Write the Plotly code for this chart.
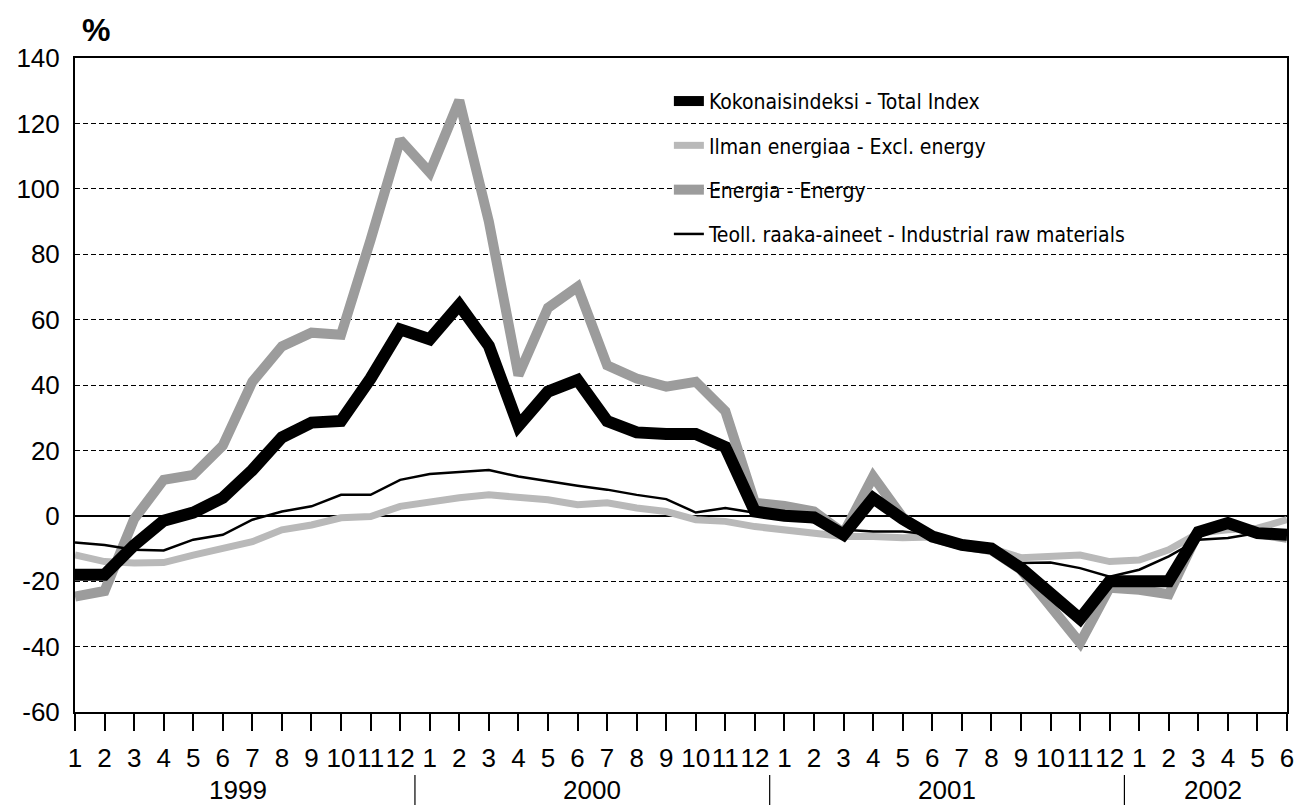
import plotly.graph_objects as go

years = ["1999", "2000", "2001", "2002"]
months_per_year = [12, 12, 12, 6]
month_labels = [str(m) for n in months_per_year for m in range(1, n + 1)]
y_ticks = [-60, -40, -20, 0, 20, 40, 60, 80, 100, 120, 140]

total = [-18, -18, -9, -1.5, 1, 5.5, 14, 24, 28.5, 29, 42, 57,
         54, 64.5, 52, 27.5, 38, 41.5, 29, 25.5, 25, 25, 21, 1.3,
         0, -0.5, -5.8, 5.4, -1, -6.3, -8.9, -10, -16, -24, -31.5, -20,
         -20, -20, -5, -2.2, -5.3, -5.8]
excl_energy = [-12, -14, -14.4, -14.3, -12, -9.9, -7.9, -4.3, -2.8, -0.6, -0.2, 2.9,
               4.4, 5.5, 6.4, 5.9, 4.9, 3.4, 4, 2.4, 1.3, -1.2, -1.7, -3.3,
               -4.3, -4.8, -6.3, -6.3, -6.7, -6.5, -8.5, -10, -12.8, -12.4, -12, -14,
               -13.5, -10.4, -5.3, -4.3, -3.8, -1.2]
energy = [-24.7, -23, -1, 11, 12.5, 21.5, 41, 51.8, 56, 55.4, 84.4, 115,
          105, 127, 90, 43, 63.6, 70, 46, 42, 39.5, 41, 32, 4,
          3, 1.3, -5.3, 12, -0.5, -6.7, -9, -10.5, -16.5, -27.8, -38.9, -22,
          -22.6, -24, -5, -2.2, -5.3, -6.7]
raw_materials = [-8.2, -8.9, -10.4, -10.6, -7.3, -5.8, -1.2, 1.3, 2.9, 6.4, 6.4, 11,
                 12.8, 13.5, 14, 12, 10.5, 9.2, 8, 6.4, 5.1, 1, 2.4, 1,
                 -0.6, -2, -4.3, -4.8, -4.8, -5.8, -8.3, -10, -14.4, -14.3, -16, -18.6,
                 -16.5, -12.4, -7.3, -6.8, -5.3, -5.8]

names = ["Kokonaisindeksi - Total Index", "Ilman energiaa - Excl. energy",
         "Energia - Energy", "Teoll. raaka-aineet - Industrial raw materials"]

FONT = "Liberation Sans, Arial, sans-serif"
NARROW = "Liberation Sans Narrow, Arial Narrow, DejaVu Sans Condensed, sans-serif"

x = list(range(len(month_labels)))

fig = go.Figure()
fig.add_trace(go.Scatter(x=x, y=energy, mode="lines", name=names[2], legendrank=3,
                         legendgroup="c", line=dict(color="#9c9c9c", width=10)))
fig.add_trace(go.Scatter(x=x, y=excl_energy, mode="lines", name=names[1], legendrank=2,
                         legendgroup="b", line=dict(color="#b9b9b9", width=7)))
fig.add_trace(go.Scatter(x=x, y=total, mode="lines", name=names[0], legendrank=1,
                         legendgroup="a", line=dict(color="black", width=12)))
fig.add_trace(go.Scatter(x=x, y=raw_materials, mode="lines", name=names[3], legendrank=4,
                         legendgroup="d", line=dict(color="black", width=2.5)))

annotations = []
shapes = []
start = 0
for i, (yr, n) in enumerate(zip(years, months_per_year)):
    center = start + (n - 1) / 2
    annotations.append(dict(x=center, y=-(790 - 712) / 654, xref="x", yref="paper", text=yr,
                            xanchor="center", yanchor="middle", showarrow=False,
                            font=dict(size=26, color="black", family=FONT)))
    if i < len(years) - 1:
        sep = start + n - 0.5
        shapes.append(dict(type="line", xref="x", yref="paper", x0=sep, x1=sep,
                           y0=-(775 - 712) / 654, y1=-(806 - 712) / 654,
                           line=dict(color="black", width=1.2)))
    start += n

annotations.append(dict(x=(96 - 75) / 1212, y=(712 - 30) / 654, xref="paper", yref="paper",
                        xanchor="center", yanchor="middle",
                        text="<b>%</b>", showarrow=False,
                        font=dict(size=32, color="black", family=FONT)))

fig.update_layout(
    width=1308, height=805,
    margin=dict(l=75, r=21, t=58, b=93),
    paper_bgcolor="white", plot_bgcolor="white",
    font=dict(family=FONT, color="black", size=24),
    showlegend=True,
    legend=dict(x=0.49, y=0.965, xanchor="left", yanchor="top",
                bgcolor="rgba(0,0,0,0)", borderwidth=0,
                font=dict(family=NARROW, size=21, color="black"),
                tracegroupgap=14, itemwidth=30, traceorder="grouped"),
    annotations=annotations,
    shapes=shapes,
)

fig.update_xaxes(
    range=[0, len(x) - 1], tickmode="array", tickvals=x, ticktext=month_labels,
    ticks="outside", ticklen=17, tickwidth=1.5, tickcolor="black", tickangle=0,
    showline=True, linecolor="black", linewidth=2, mirror=True,
    showgrid=False, zeroline=False, ticklabelstandoff=5,
    tickfont=dict(size=26, color="black", family=FONT),
)
fig.update_yaxes(
    range=[-60, 140], tickmode="array", tickvals=y_ticks,
    ticktext=[str(v) for v in y_ticks],
    showline=True, linecolor="black", linewidth=2, mirror=True,
    showgrid=True, gridcolor="black", gridwidth=1, griddash="5px,3px",
    zeroline=True, zerolinecolor="black", zerolinewidth=2,
    ticks="", ticklabelstandoff=8,
    tickfont=dict(size=26, color="black", family=FONT),
)

fig.write_html("out.html", config={"displayModeBar": False},
               post_script="document.body.style.margin='0px';")
